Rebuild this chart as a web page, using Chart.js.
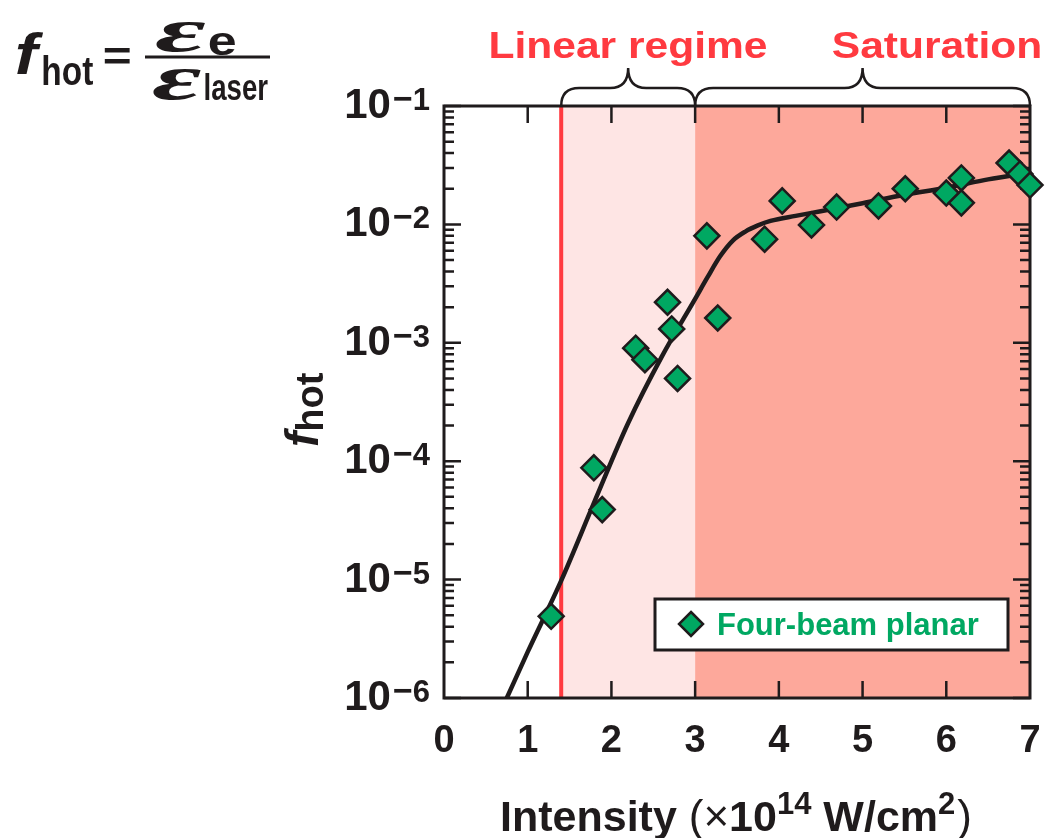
<!DOCTYPE html>
<html lang="en">
<head>
    <meta charset="UTF-8">
    <title>f_hot vs Intensity</title>
    <script src="https://cdn.jsdelivr.net/npm/chart.js"></script>
    <style>
        html, body { margin: 0; padding: 0; background: #fff; }
        #wrap { width: 1045px; height: 838px; }
    </style>
</head>
<body>
<div id="wrap"><canvas id="fhotChart" width="1045" height="838"></canvas></div>
<script>
    // measured points (four-beam planar)
    const intensity = [1.28, 1.79, 1.89, 2.29, 2.40, 2.67, 2.72, 2.79, 3.14, 3.27, 3.83,
                       4.04, 4.39, 4.69, 5.19, 5.51, 6.00, 6.18, 6.18, 6.75, 6.88, 7.00];
    const fhot = [4.9e-6, 8.8e-5, 3.9e-5, 9.0e-4, 7.2e-4, 2.2e-3, 1.31e-3, 5.0e-4, 8.0e-3, 1.62e-3, 7.5e-3,
                  1.58e-2, 9.9e-3, 1.40e-2, 1.43e-2, 2.0e-2, 1.84e-2, 2.47e-2, 1.52e-2, 3.3e-2, 2.67e-2, 2.15e-2];

    // fit curve
    const fitIntensity = [0.75, 1.0, 1.4, 1.8, 2.2, 2.6, 3.0, 3.15, 3.3, 3.45, 3.6, 3.75, 3.9, 4.2, 4.5,
                          5.0, 5.5, 6.0, 6.5, 7.0];
    const fitFhot = [1.0e-6, 2.45e-6, 9.8e-6, 4.6e-5, 2.1e-4, 7.6e-4, 2.35e-3, 3.6e-3, 5.4e-3, 7.3e-3,
                     8.7e-3, 9.8e-3, 1.07e-2, 1.18e-2, 1.29e-2, 1.51e-2, 1.78e-2, 2.04e-2, 2.4e-2, 2.75e-2];

    const xTicks = [0, 1, 2, 3, 4, 5, 6, 7];
    const yExponents = [-6, -5, -4, -3, -2, -1];

    // regimes
    const thresholdIntensity = 1.4;
    const saturationStart = 3.0;
    const maxIntensity = 7.0;

    const FONT = '"Liberation Sans", Arial, Helvetica, sans-serif';
    const RED = '#ff3a40';
    const GREEN = '#00a862';
    const INK = '#1f1b1c';

    // draw text so its ink spans left..right
    function fitInk(ctx, str, font, left, right, baseline, color) {
        ctx.save();
        ctx.font = font;
        ctx.fillStyle = color || INK;
        ctx.textAlign = 'left';
        ctx.textBaseline = 'alphabetic';
        const m = ctx.measureText(str);
        const ink = m.actualBoundingBoxLeft + m.actualBoundingBoxRight;
        const sx = (right - left) / ink;
        ctx.translate(left + m.actualBoundingBoxLeft * sx, baseline);
        ctx.scale(sx, 1);
        ctx.fillText(str, 0, 0);
        ctx.restore();
    }

    // pieces: [text, font, dy, gapBefore]
    function drawPieces(ctx, pieces, x, y, align, color) {
        ctx.save();
        ctx.fillStyle = color || INK;
        ctx.textBaseline = 'alphabetic';
        ctx.textAlign = 'left';
        let total = 0;
        const widths = pieces.map(p => {
            ctx.font = p[1];
            const w = ctx.measureText(p[0]).width + (p[3] || 0);
            total += w;
            return w;
        });
        let cx = align === 'right' ? x - total : align === 'center' ? x - total / 2 : x;
        pieces.forEach((p, i) => {
            ctx.font = p[1];
            ctx.fillText(p[0], cx + (p[3] || 0), y + (p[2] || 0));
            cx += widths[i];
        });
        ctx.restore();
    }

    function brace(ctx, xa, xb, xm, yEnd, yMid, yTip) {
        const r = 18;
        ctx.beginPath();
        ctx.moveTo(xa, yEnd);
        ctx.quadraticCurveTo(xa, yMid, xa + r, yMid);
        ctx.lineTo(xm - r, yMid);
        ctx.quadraticCurveTo(xm, yMid, xm, yTip);
        ctx.quadraticCurveTo(xm, yMid, xm + r, yMid);
        ctx.lineTo(xb - r, yMid);
        ctx.quadraticCurveTo(xb, yMid, xb, yEnd);
        ctx.stroke();
    }

    const decorPlugin = {
        id: 'decor',
        beforeDatasetsDraw(chart) {
            const {ctx, chartArea: a, scales: {x, y}} = chart;
            const xt = x.getPixelForValue(thresholdIntensity);
            const xs = x.getPixelForValue(saturationStart);
            const xe = x.getPixelForValue(maxIntensity);
            ctx.save();
            ctx.fillStyle = '#fee5e4';
            ctx.fillRect(xt, a.top, xs - xt, a.bottom - a.top);
            ctx.fillStyle = '#fda89b';
            ctx.fillRect(xs, a.top, xe - xs, a.bottom - a.top);
            ctx.strokeStyle = RED;
            ctx.lineWidth = 4;
            ctx.beginPath();
            ctx.moveTo(xt, a.top);
            ctx.lineTo(xt, a.bottom);
            ctx.stroke();

            // ticks pointing inward
            ctx.strokeStyle = INK;
            ctx.lineWidth = 2.5;
            ctx.beginPath();
            yExponents.forEach(e => {
                for (let k = 1; k <= 9; k++) {
                    const v = k * Math.pow(10, e);
                    if (v > y.max * 1.0001) continue;
                    const py = y.getPixelForValue(v);
                    const len = k === 1 ? 17 : 10;
                    ctx.moveTo(a.left, py); ctx.lineTo(a.left + len, py);
                    ctx.moveTo(a.right, py); ctx.lineTo(a.right - len, py);
                }
            });
            xTicks.forEach(t => {
                if (t === 0 || t === 7) return;
                const px = x.getPixelForValue(t);
                ctx.moveTo(px, a.top); ctx.lineTo(px, a.top + 17);
                ctx.moveTo(px, a.bottom); ctx.lineTo(px, a.bottom - 17);
            });
            ctx.stroke();

            ctx.lineWidth = 3;
            ctx.strokeRect(a.left, a.top, a.right - a.left, a.bottom - a.top);
            ctx.restore();
        },
        afterDraw(chart) {
            const {ctx, chartArea: a, scales: {x, y}} = chart;
            ctx.save();

            // y tick labels
            yExponents.forEach(e => {
                const py = y.getPixelForValue(Math.pow(10, e));
                drawPieces(ctx, [
                    ['10', 'bold 42px ' + FONT, 0],
                    ['\u2212', 'bold 34px ' + FONT, -8, 2],
                    [String(-e), 'bold 31px ' + FONT, -8]
                ], 430, py + 12, 'right');
            });

            // x tick labels
            xTicks.forEach(t => {
                drawPieces(ctx, [[String(t), 'bold 38px ' + FONT, 0]], x.getPixelForValue(t), 752, 'center');
            });

            // x title
            drawPieces(ctx, [
                ['Intensity ', 'bold 43px ' + FONT, 0],
                ['(\u00d7', '44px ' + FONT, 0],
                ['10', 'bold 43px ' + FONT, 0],
                ['14', 'bold 31px ' + FONT, -17],
                [' W/cm', 'bold 43px ' + FONT, 0],
                ['2', 'bold 31px ' + FONT, -17],
                [')', '44px ' + FONT, 0, 2]
            ], 500, 831, 'left');

            // y title, rotated
            ctx.save();
            ctx.translate(318, 447);
            ctx.rotate(-Math.PI / 2);
            drawPieces(ctx, [
                ['f', 'italic bold 46px ' + FONT, 0],
                ['hot', 'bold 38px ' + FONT, 5]
            ], 0, 0, 'left');
            ctx.restore();

            // regime labels and braces
            const xt = x.getPixelForValue(thresholdIntensity);
            const xs = x.getPixelForValue(saturationStart);
            const xe = x.getPixelForValue(maxIntensity);
            ctx.save();
            ctx.translate(628, 58);
            ctx.scale(1.15, 1);
            drawPieces(ctx, [['Linear regime', 'bold 37px ' + FONT, 0]], 0, 0, 'center', RED);
            ctx.restore();
            ctx.save();
            ctx.translate(937, 58);
            ctx.scale(1.15, 1);
            drawPieces(ctx, [['Saturation', 'bold 37px ' + FONT, 0]], 0, 0, 'center', RED);
            ctx.restore();

            ctx.strokeStyle = INK;
            ctx.lineWidth = 2.5;
            brace(ctx, xt, xs, x.getPixelForValue(2.2), a.top, 88, 68);
            brace(ctx, xs, xe, x.getPixelForValue(5.0), a.top, 88, 68);

            // formula in the corner
            fitInk(ctx, 'f', 'italic bold 58px ' + FONT, 17, 44, 74);
            fitInk(ctx, 'hot', 'bold 40px ' + FONT, 43, 93, 85);
            fitInk(ctx, '=', 'bold 40px ' + FONT, 104, 130, 70);
            ctx.fillStyle = INK;
            ctx.fillRect(145, 55.5, 125, 3);
            fitInk(ctx, '\u03b5', 'italic bold 62px "Liberation Serif", serif', 155, 205, 51);
            fitInk(ctx, 'e', 'bold 40px ' + FONT, 209, 235, 55);
            fitInk(ctx, '\u03b5', 'italic bold 64px "Liberation Serif", serif', 152, 201, 99);
            fitInk(ctx, 'laser', 'bold 36px ' + FONT, 205, 268, 100);

            // legend
            ctx.fillStyle = '#fff';
            ctx.fillRect(655, 599, 353, 51);
            ctx.strokeStyle = INK;
            ctx.lineWidth = 3;
            ctx.strokeRect(655, 599, 353, 51);
            ctx.beginPath();
            ctx.moveTo(691, 612); ctx.lineTo(703, 624); ctx.lineTo(691, 636); ctx.lineTo(679, 624); ctx.closePath();
            ctx.fillStyle = GREEN;
            ctx.fill();
            ctx.lineWidth = 2.5;
            ctx.stroke();
            drawPieces(ctx, [['Four-beam planar', 'bold 31px ' + FONT, 0]], 717, 635, 'left', GREEN);

            ctx.restore();
        }
    };

    const ctx = document.getElementById('fhotChart').getContext('2d');
    new Chart(ctx, {
        type: 'scatter',
        data: {
            datasets: [{
                label: 'Fit',
                data: fitIntensity.map((v, i) => ({x: v, y: fitFhot[i]})),
                showLine: true,
                borderColor: INK,
                borderWidth: 4.5,
                pointRadius: 0,
                cubicInterpolationMode: 'monotone',
                order: 2
            }, {
                label: 'Four-beam planar',
                data: intensity.map((v, i) => ({x: v, y: fhot[i]})),
                pointStyle: 'rectRot',
                pointRadius: 12.5,
                backgroundColor: GREEN,
                borderColor: INK,
                borderWidth: 2.5,
                clip: false,
                order: 1
            }]
        },
        options: {
            responsive: false,
            animation: false,
            layout: { padding: { left: 444, right: 12, top: 106, bottom: 140 } },
            plugins: { legend: { display: false }, tooltip: { enabled: false } },
            scales: {
                x: { type: 'linear', min: 0, max: 7, display: false },
                y: { type: 'logarithmic', min: 1e-6, max: 1e-1, display: false }
            }
        },
        plugins: [decorPlugin]
    });
</script>
</body>
</html>
